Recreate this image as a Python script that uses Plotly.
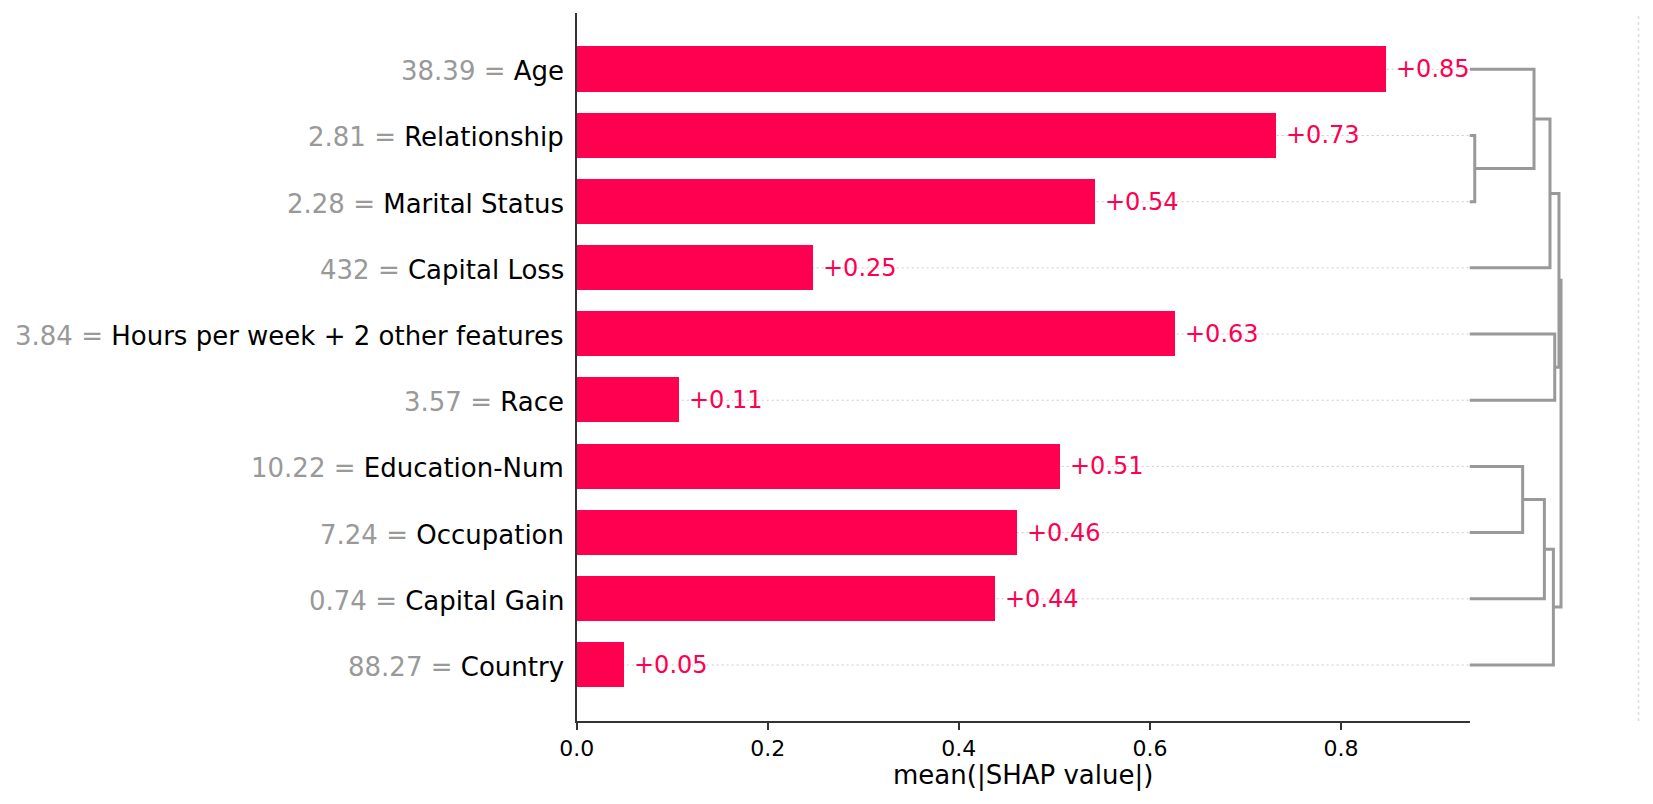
import plotly.graph_objects as go

# ---------------- data ----------------
features = ["Age", "Relationship", "Marital Status", "Capital Loss",
            "Hours per week + 2 other features", "Race", "Education-Num",
            "Occupation", "Capital Gain", "Country"]
feature_values = ["38.39", "2.81", "2.28", "432", "3.84", "3.57", "10.22",
                  "7.24", "0.74", "88.27"]
shap_means = [0.847, 0.732, 0.542, 0.247, 0.626, 0.107, 0.506, 0.461, 0.438, 0.049]
x_ticks = [0.0, 0.2, 0.4, 0.6, 0.8]
x_limit = 0.9345

# hierarchical clustering (dendrogram) merges: (child_a, child_b, distance)
# nodes 0..9 are the leaves (rows), new nodes are numbered from 10 upward
merge_pairs = [(1, 2), (0, 10), (11, 3), (4, 5), (6, 7), (14, 8), (15, 9), (12, 13), (17, 16)]
merge_heights = [0.031, 0.380, 0.474, 0.502, 0.313, 0.441, 0.494, 0.527, 0.539]

# ---------------- styling ----------------
W, H = 1653, 804
RED = "#ff0051"
GREY = "#999999"
AXC = "#333333"
FONT = "DejaVu Sans"

plot_l, plot_r, plot_t, plot_b = 576.7, 1469.5, 13.3, 721.0
dend_r = 1639.3
n = len(features)

fig = go.Figure()

# bars
fig.add_trace(go.Bar(
    x=shap_means, y=list(range(n)), orientation="h", width=0.68,
    marker=dict(color=RED, line=dict(width=0)), showlegend=False,
    hoverinfo="skip"))

# dendrogram
pos = {i: float(i) for i in range(n)}
hgt = {i: 0.0 for i in range(n)}
dx, dy = [], []
for k, ((a, b), h) in enumerate(zip(merge_pairs, merge_heights)):
    node = n + k
    dx += [hgt[a], h, h, hgt[b], None]
    dy += [pos[a], pos[a], pos[b], pos[b], None]
    pos[node] = (pos[a] + pos[b]) / 2
    hgt[node] = h
fig.add_trace(go.Scatter(
    x=dx, y=dy, xaxis="x2", yaxis="y", mode="lines",
    line=dict(color=GREY, width=3), showlegend=False, hoverinfo="skip"))

shapes = []
# dotted row guides behind bars
for i in range(n):
    shapes.append(dict(type="line", xref="x", yref="y", x0=0, x1=x_limit, y0=i, y1=i,
                       line=dict(color="#cccccc", width=1, dash="2px,3px"), layer="below"))
# dotted vertical line at right of dendrogram panel
shapes.append(dict(type="line", xref="x2", yref="y domain", x0=1, x1=1, y0=0, y1=1,
                   line=dict(color="#dddddd", width=3, dash="3px,3px"), layer="below"))

annotations = []
# y labels (feature value = feature name)
for i in range(n):
    annotations.append(dict(
        xref="paper", yref="y", x=(plot_l - 11) / W, y=i, xanchor="right", yanchor="middle",
        yshift=-2,
        text=f"<span style='color:{GREY}'>{feature_values[i]} = </span>{features[i]}",
        showarrow=False, font=dict(family=FONT, size=26, color="black")))
    annotations.append(dict(
        xref="x", yref="y", x=shap_means[i], y=i, xanchor="left", yanchor="middle",
        xshift=8, text=f"+{shap_means[i]:.2f}", showarrow=False,
        font=dict(family=FONT, size=24, color=RED)))
# x axis title
annotations.append(dict(
    xref="paper", yref="paper", x=(plot_l + plot_r) / 2 / W, y=1 - 775 / H,
    xanchor="center", yanchor="middle", text="mean(|SHAP value|)", showarrow=False,
    font=dict(family=FONT, size=26, color="black")))

fig.update_layout(
    width=W, height=H, margin=dict(l=0, r=0, t=0, b=0, autoexpand=False),
    paper_bgcolor="white", plot_bgcolor="white",
    font=dict(family=FONT, color="black"),
    bargap=0, showlegend=False,
    xaxis=dict(domain=[plot_l / W, plot_r / W], range=[0, x_limit],
               tickvals=x_ticks, ticktext=[f"{v:.1f}" for v in x_ticks],
               ticks="outside", ticklen=7, tickwidth=1.5, tickcolor=AXC,
               showline=True, linecolor=AXC, linewidth=1.5,
               showgrid=False, zeroline=False, automargin=False,
               tickfont=dict(family=FONT, size=22, color="black"), anchor="y"),
    xaxis2=dict(domain=[plot_r / W, dend_r / W], range=[0, 1], visible=False,
                showgrid=False, zeroline=False, anchor="y"),
    yaxis=dict(domain=[1 - plot_b / H, 1 - plot_t / H], range=[n - 1 + 0.846, -0.846],
               showticklabels=False, ticks="", showline=True, linecolor=AXC,
               linewidth=1.5, showgrid=False, zeroline=False, anchor="x",
               automargin=False),
    shapes=shapes, annotations=annotations,
)

fig.write_html("out.html")
